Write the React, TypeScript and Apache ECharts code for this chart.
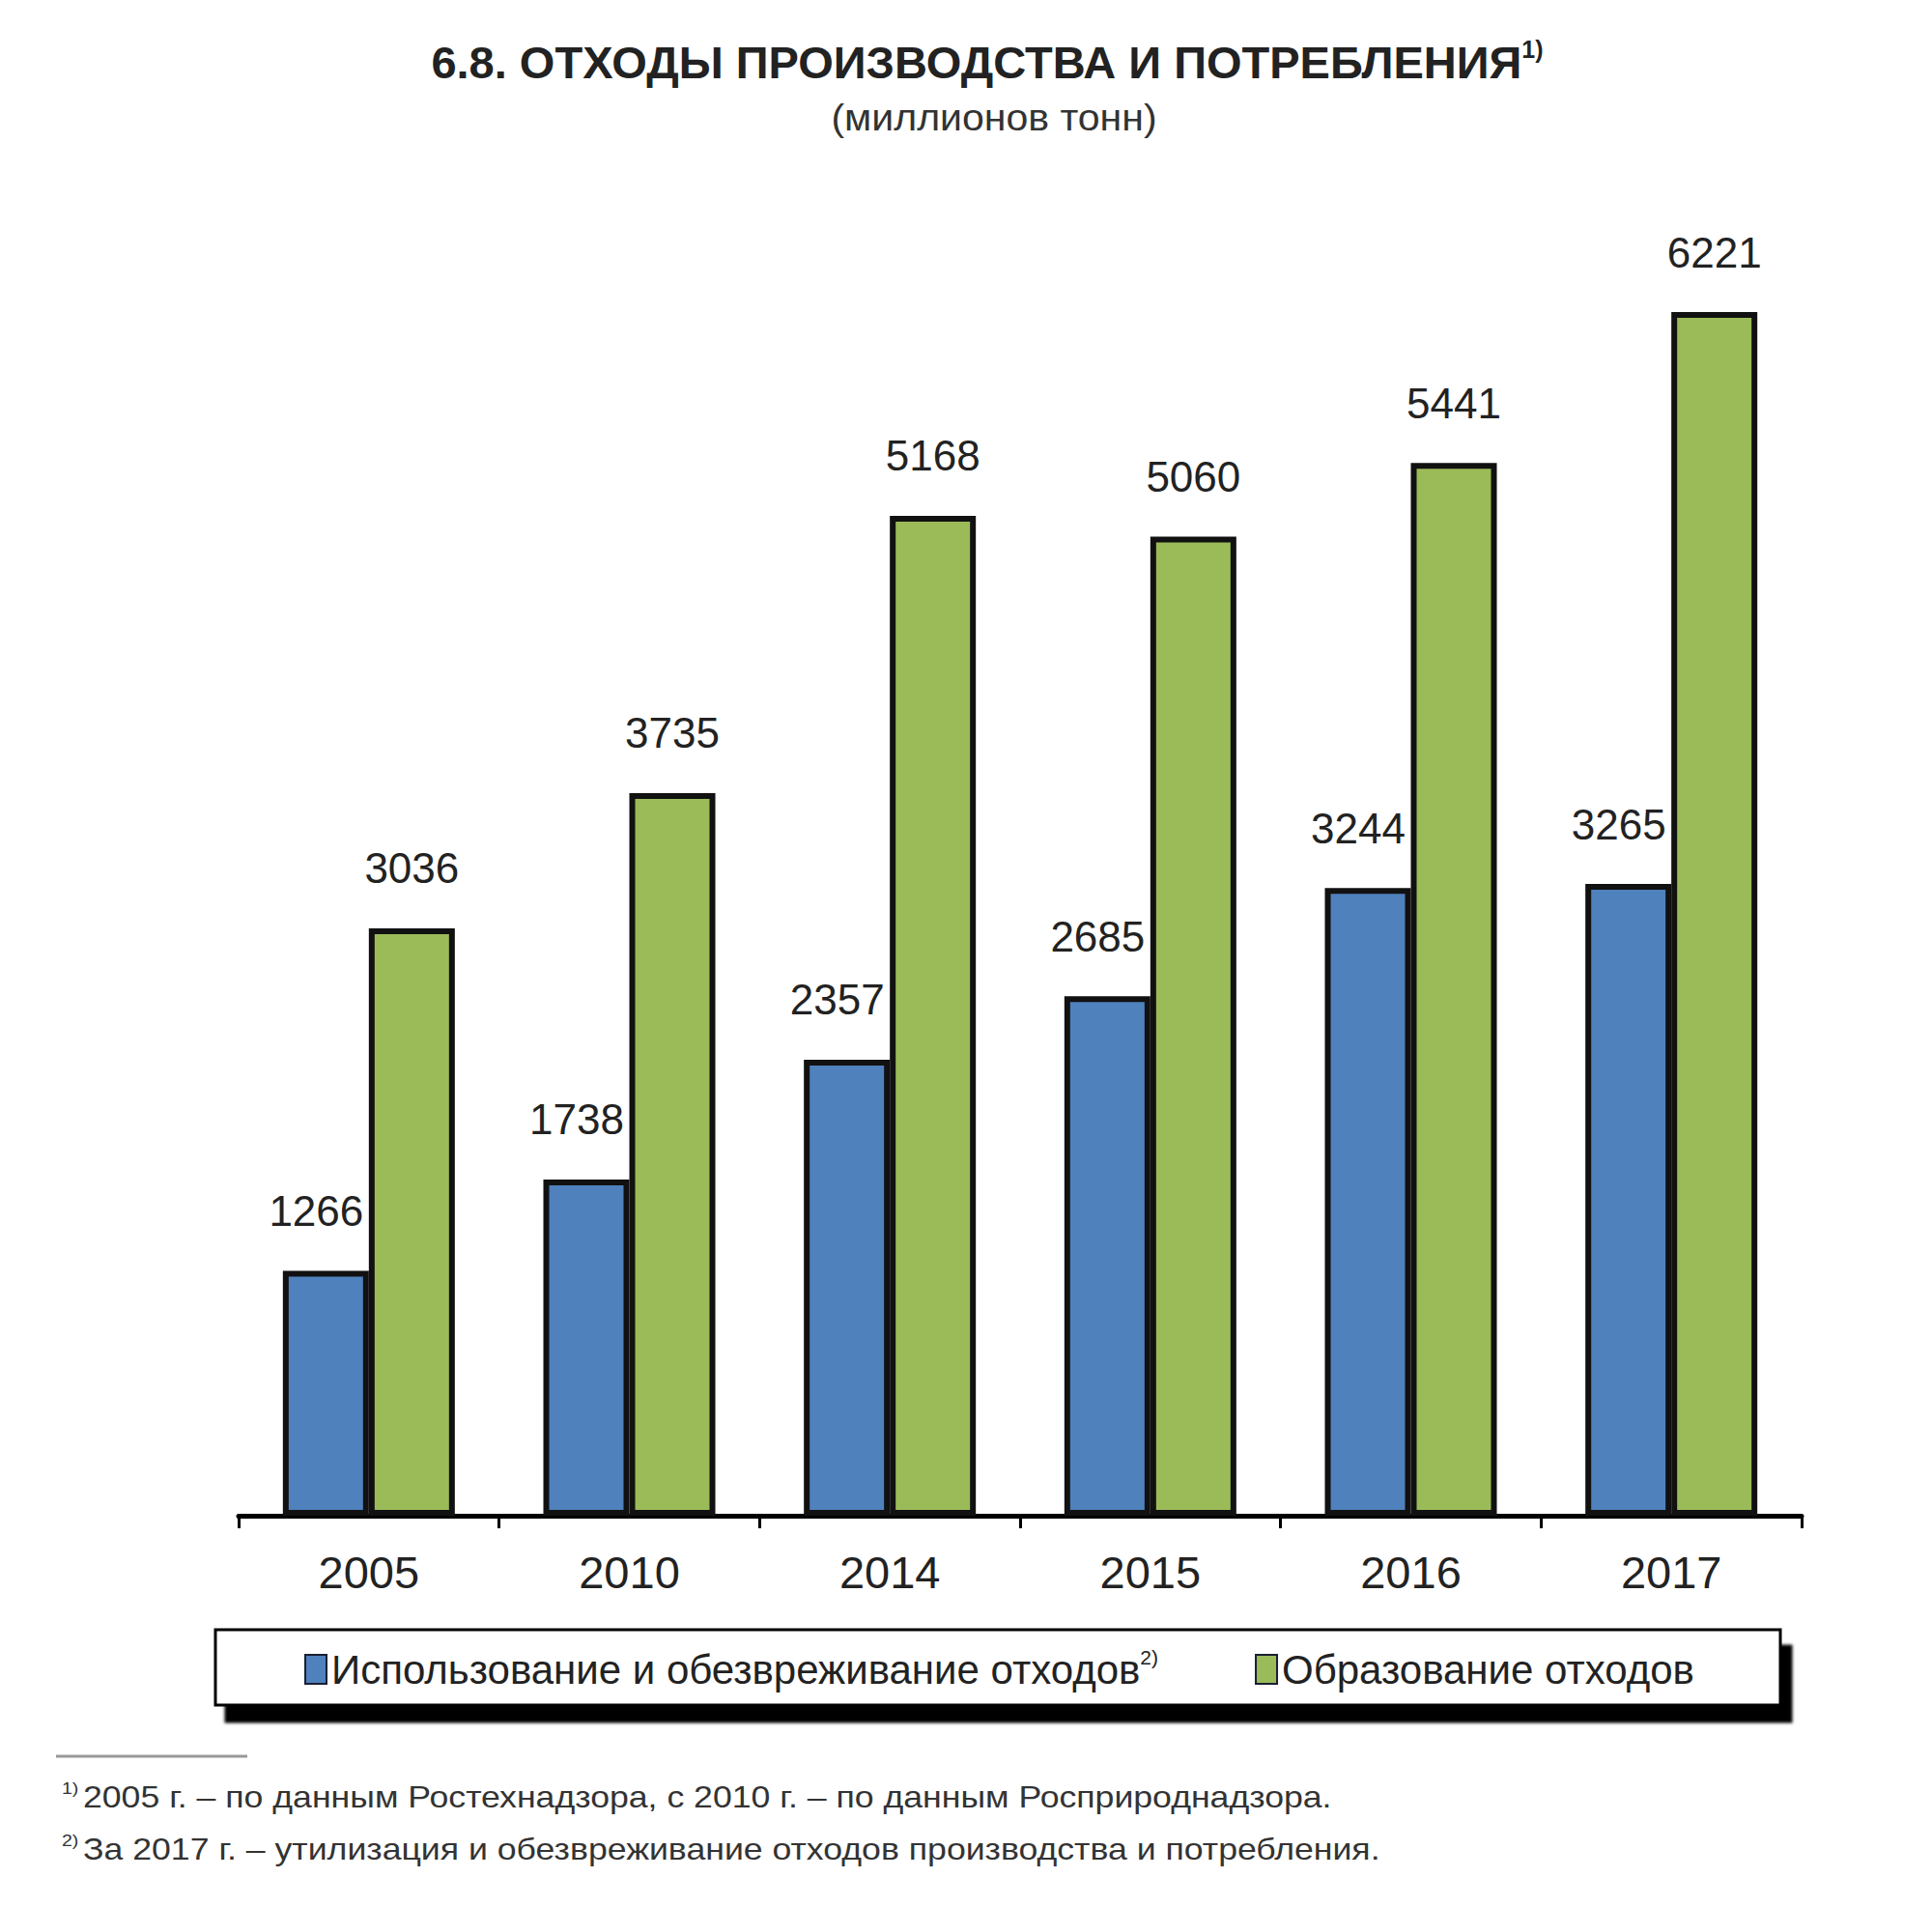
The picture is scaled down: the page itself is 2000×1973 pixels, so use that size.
import React, { useEffect, useRef } from "react";
import * as echarts from "echarts";

const categories = ["2005", "2010", "2014", "2015", "2016", "2017"];
const usedValues = [1266, 1738, 2357, 2685, 3244, 3265];
const formedValues = [3036, 3735, 5168, 5060, 5441, 6221];
const seriesNames = [
  "Использование и обезвреживание отходов",
  "Образование отходов",
];
const titleText = "6.8. ОТХОДЫ ПРОИЗВОДСТВА И ПОТРЕБЛЕНИЯ";
const subtitleText = "(миллионов тонн)";
const footnotes = [
  "2005 г. – по данным Ростехнадзора, с 2010 г. – по данным Росприроднадзора.",
  "За 2017 г. – утилизация и обезвреживание отходов производства и потребления.",
];

const FONT = "'Liberation Sans', Arial, sans-serif";

export default function App() {
  const ref = useRef<HTMLDivElement>(null);
  useEffect(() => {
    const chart = echarts.init(ref.current!, null, { renderer: "svg" });
    const footRich = {
      t: { fontSize: 31, fontFamily: FONT, fill: "#333", lineHeight: 36 },
      s: { fontSize: 17, fontFamily: FONT, fill: "#333", verticalAlign: "top", lineHeight: 18, padding: [0, 4, 0, 0] },
    };
    const option: any = {
      animation: false,
      backgroundColor: "#ffffff",
      textStyle: { fontFamily: FONT },
      grid: { left: 247, right: 135, top: 167, bottom: 404, containLabel: false },
      xAxis: {
        type: "category",
        data: categories,
        boundaryGap: true,
        axisLine: { show: true, lineStyle: { color: "#000", width: 5 } },
        axisTick: { show: true, length: 13, lineStyle: { color: "#000", width: 3 } },
        axisLabel: { color: "#222", fontSize: 47, margin: 35, fontFamily: FONT },
      },
      yAxis: {
        type: "value",
        min: 0,
        max: 7000,
        show: false,
        splitLine: { show: false },
      },
      legend: {
        left: 315,
        top: 1705,
        orient: "horizontal",
        icon: "rect",
        itemWidth: 22,
        itemHeight: 30,
        itemGap: 100,
        padding: 0,
        itemStyle: { borderColor: "#1a1f33", borderWidth: 2 },
        data: seriesNames,
        formatter: (name: string) =>
          name === seriesNames[0] ? `{t|${name}}{s|2)}` : `{t|${name}}`,
        textStyle: {
          color: "#222",
          fontSize: 42,
          fontFamily: FONT,
          rich: {
            t: { fontSize: 42, fontFamily: FONT, color: "#222", lineHeight: 46 },
            s: { fontSize: 21, fontFamily: FONT, color: "#222", verticalAlign: "top", lineHeight: 22 },
          },
        },
      },
      series: [
        {
          name: seriesNames[0],
          type: "bar",
          data: usedValues,
          barWidth: 89,
          barGap: "0%",
          itemStyle: { color: "#4f81bd", borderColor: "#111", borderWidth: 6 },
          label: {
            show: true,
            position: "top",
            distance: 40,
            offset: [-10, 0],
            color: "#222",
            fontSize: 44,
            fontFamily: FONT,
          },
        },
        {
          name: seriesNames[1],
          type: "bar",
          data: formedValues,
          barWidth: 89,
          barGap: "0%",
          itemStyle: { color: "#9bbb59", borderColor: "#111", borderWidth: 6 },
          label: {
            show: true,
            position: "top",
            distance: 40,
            color: "#222",
            fontSize: 44,
            fontFamily: FONT,
          },
        },
      ],
      graphic: [
        {
          type: "text",
          x: 1022,
          y: 64,
          style: {
            text: `{a|${titleText}}{s|1)}`,
            align: "center",
            verticalAlign: "middle",
            rich: {
              a: { fontSize: 47, fontWeight: "bold", fontFamily: FONT, fill: "#222", lineHeight: 52 },
              s: { fontSize: 25, fontWeight: "bold", fontFamily: FONT, fill: "#222", verticalAlign: "top", lineHeight: 24 },
            },
          },
        },
        {
          type: "text",
          x: 1029,
          y: 122,
          scaleX: 1.08,
          style: {
            text: subtitleText,
            align: "center",
            verticalAlign: "middle",
            fontSize: 38,
            fontFamily: FONT,
            fill: "#333",
          },
        },
        {
          type: "rect",
          shape: { x: 223, y: 1687, width: 1620, height: 78 },
          style: {
            fill: "#fff",
            stroke: "#000",
            lineWidth: 3,
            shadowColor: "#000",
            shadowOffsetX: 11,
            shadowOffsetY: 17,
            shadowBlur: 3,
          },
        },
        {
          type: "line",
          shape: { x1: 58, y1: 1818, x2: 256, y2: 1818 },
          style: { stroke: "#999", lineWidth: 3 },
        },
        {
          type: "text",
          x: 64,
          y: 1860,
          scaleX: 1.15,
          style: {
            text: `{s|1)}{t|${footnotes[0]}}`,
            align: "left",
            verticalAlign: "middle",
            rich: footRich,
          },
        },
        {
          type: "text",
          x: 64,
          y: 1914,
          scaleX: 1.15,
          style: {
            text: `{s|2)}{t|${footnotes[1]}}`,
            align: "left",
            verticalAlign: "middle",
            rich: footRich,
          },
        },
      ],
    };
    chart.setOption(option);
    return () => chart.dispose();
  }, []);
  return (
    <div
      ref={ref}
      style={{ position: "absolute", left: 0, top: 0, width: 2000, height: 1973 }}
    />
  );
}
